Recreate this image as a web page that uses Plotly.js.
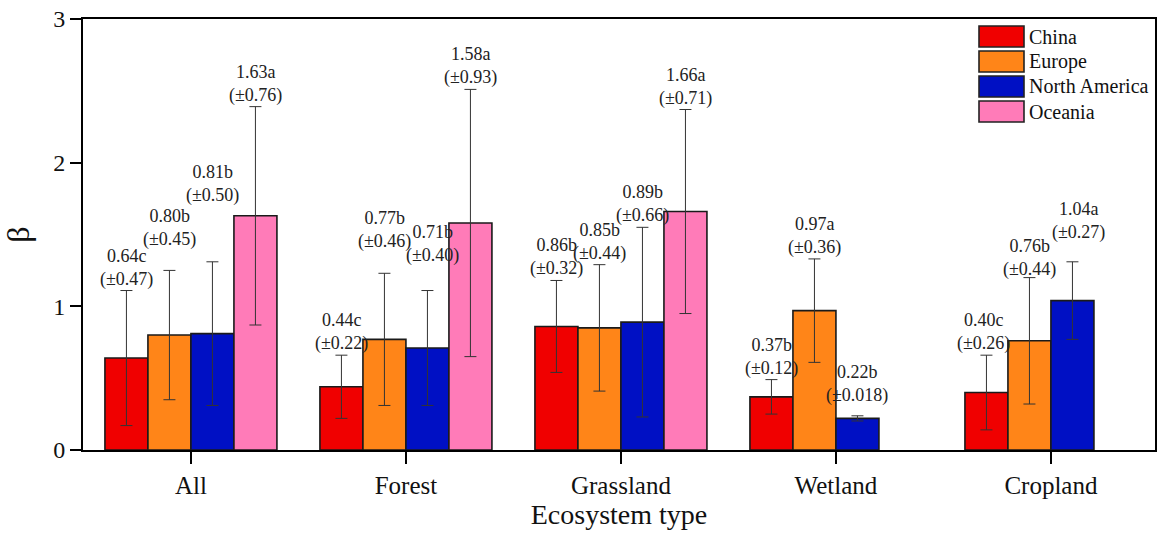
<!DOCTYPE html>
<html>
<head>
<meta charset="utf-8">
<script src="https://cdn.plot.ly/plotly-3.0.1.min.js"></script>
<style>html,body{margin:0;padding:0;background:#fff;}#chart{width:1158px;height:534px;}</style>
</head>
<body>
<div id="chart"></div>
<script>
const categories = ["All", "Forest", "Grassland", "Wetland", "Cropland"];
const seriesNames = ["China", "Europe", "North America", "Oceania"];
const seriesColors = ["#F00000", "#FF8518", "#0010C4", "#FF7BB8"];

const chinaMean = [0.64, 0.44, 0.86, 0.37, 0.40];
const chinaSD = [0.47, 0.22, 0.32, 0.12, 0.26];
const chinaLetter = ["c", "c", "b", "b", "c"];

const europeMean = [0.80, 0.77, 0.85, 0.97, 0.76];
const europeSD = [0.45, 0.46, 0.44, 0.36, 0.44];
const europeLetter = ["b", "b", "b", "a", "b"];

const naMean = [0.81, 0.71, 0.89, 0.22, 1.04];
const naSD = [0.50, 0.40, 0.66, 0.018, 0.27];
const naLetter = ["b", "b", "b", "b", "a"];

const oceaniaMean = [1.63, 1.58, 1.66, null, null];
const oceaniaSD = [0.76, 0.93, 0.71, null, null];
const oceaniaLetter = ["a", "a", "a", null, null];

const yTicks = [0, 1, 2, 3];

const means = [chinaMean, europeMean, naMean, oceaniaMean];
const sds = [chinaSD, europeSD, naSD, oceaniaSD];
const letters = [chinaLetter, europeLetter, naLetter, oceaniaLetter];

// ---- styling / placement (not data) ----
const serif = "Liberation Serif, Times New Roman, serif";
// extra pixel lift of each label above its error bar (per series, per category)
const labelLift = [
  [0, 0, 0, 0, 0],
  [19, 20, 0, 0, -3],
  [55, 24, 0, 9, 18],
  [0, 0, 0, 0, 0]
];
const labelNudgeX = [
  [0, 0, 0, 0, -3],
  [0, 0, 0, 0, 0],
  [0, 5, 0, 0, 6],
  [0, 0, 0, 0, 0]
];

function fmtSD(n) {
  return (Math.abs(Math.round(n * 100) / 100 - n) < 1e-9) ? n.toFixed(2) : String(n);
}

const traces = seriesNames.map((name, s) => ({
  type: "bar",
  name: name,
  x: categories,
  y: means[s],
  marker: { color: seriesColors[s], line: { color: "#1a1a1a", width: 1.6 } },
  error_y: { type: "data", array: sds[s], visible: true, color: "#333333", thickness: 1, width: 6 },
  showlegend: false,
  hoverinfo: "skip"
}));

const nS = seriesNames.length;
const barSlot = 0.8 / nS;
const annotations = [];
for (let s = 0; s < nS; s++) {
  for (let c = 0; c < categories.length; c++) {
    const m = means[s][c];
    if (m === null || m === undefined) continue;
    const sd = sds[s][c];
    annotations.push({
      x: c - 0.4 + barSlot * (s + 0.5),
      y: m + sd,
      xref: "x", yref: "y",
      text: m.toFixed(2) + letters[s][c] + "<br>(±" + fmtSD(sd) + ")",
      showarrow: false,
      xanchor: "center", yanchor: "bottom",
      yshift: -1 + labelLift[s][c],
      xshift: labelNudgeX[s][c],
      font: { family: serif, size: 18, color: "#222" }
    });
  }
}

// Legend (drawn with paper-referenced shapes and texts)
const plotL = 83, plotR = 1155, plotT = 19, plotB = 450;
const W = plotR - plotL, H = plotB - plotT;
const px2x = p => (p - plotL) / W;
const px2y = p => (plotB - p) / H;
const shapes = [];
seriesNames.forEach((name, i) => {
  const top = 26 + i * 25, bot = top + 21;
  shapes.push({
    type: "rect", xref: "paper", yref: "paper",
    x0: px2x(979), x1: px2x(1024), y0: px2y(bot), y1: px2y(top),
    fillcolor: seriesColors[i], line: { color: "#222", width: 1.6 }
  });
  annotations.push({
    xref: "paper", yref: "paper",
    x: px2x(1027), y: px2y((top + bot) / 2),
    xanchor: "left", yanchor: "middle",
    text: name, showarrow: false,
    font: { family: serif, size: 20, color: "#111" }
  });
});

const layout = {
  width: 1158, height: 534,
  margin: { l: plotL, r: 1158 - plotR, t: plotT, b: 534 - plotB },
  paper_bgcolor: "#fff", plot_bgcolor: "#fff",
  barmode: "group", bargap: 0.2, bargroupgap: 0,
  font: { family: serif, color: "#111" },
  xaxis: {
    type: "category",
    range: [-0.502, 4.484],
    showline: true, linecolor: "#000", linewidth: 2, mirror: true,
    ticks: "outside", ticklen: 12, tickwidth: 2, tickcolor: "#000",
    tickfont: { family: serif, size: 25, color: "#111" },
    showgrid: false, zeroline: false,
    title: { text: "Ecosystem type", font: { family: serif, size: 28, color: "#111" }, standoff: 4 }
  },
  yaxis: {
    range: [0, 3],
    tickvals: yTicks, ticktext: yTicks.map(String),
    showline: true, linecolor: "#000", linewidth: 2, mirror: true,
    ticks: "outside", ticklen: 11, tickwidth: 2, tickcolor: "#000",
    tickfont: { family: serif, size: 24, color: "#111" },
    showgrid: false, zeroline: false,
    title: { text: "β", font: { family: serif, size: 32, color: "#111" }, standoff: 16 }
  },
  annotations: annotations,
  shapes: shapes,
  showlegend: false
};

Plotly.newPlot("chart", traces, layout, { displayModeBar: false, staticPlot: true });
</script>
</body>
</html>
